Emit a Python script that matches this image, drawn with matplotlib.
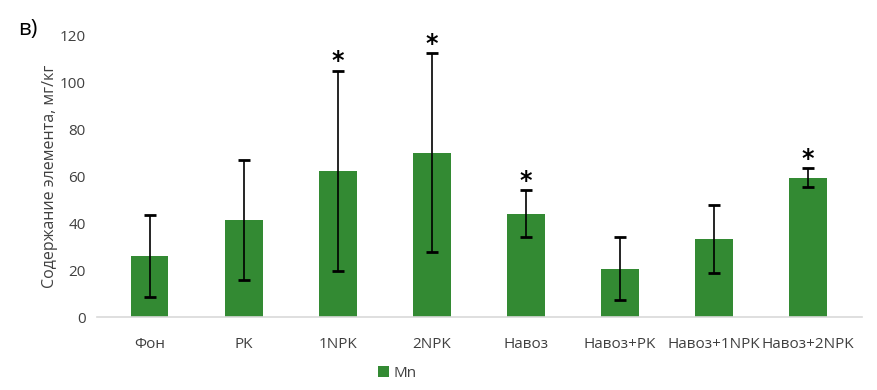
import numpy as np
from matplotlib import pyplot as plt

categories = ["Фон", "PK", "1NPK", "2NPK", "Навоз", "Навоз+PK", "Навоз+1NPK", "Навоз+2NPK"]
mn_values = [26.0, 41.3, 62.2, 70.0, 44.0, 20.6, 33.3, 59.3]
mn_errors = [17.5, 25.7, 42.5, 42.3, 10.0, 13.5, 14.5, 4.0]
significant = [False, False, True, True, True, False, False, True]

plt.rcParams['font.family'] = ['Liberation Sans Narrow', 'Open Sans', 'DejaVu Sans']

fig = plt.figure(figsize=(8.77, 3.90), dpi=100)
ax = fig.add_axes([0.1106, 0.187, 0.872, 0.723])

x = np.arange(len(categories))
ax.bar(x, mn_values, width=0.4, color="#338a33", label="Mn", zorder=2)
ax.errorbar(x, mn_values, yerr=mn_errors, fmt="none", ecolor="black",
            elinewidth=1.2, capsize=4, capthick=2, zorder=3)

# stars over significant bars
for xi, v, e, s in zip(x, mn_values, mn_errors, significant):
    if s:
        ax.text(xi, v + e - 1.0, "*", ha="center", va="bottom",
                fontsize=17, fontweight="bold", family="DejaVu Sans")

ax.set_xlim(-0.56, 7.57)
ax.set_ylim(0, 120)
ax.set_yticks(range(0, 121, 20))
ax.set_xticks(x)
ax.set_xticklabels(categories)
ax.tick_params(axis="both", length=0, labelsize=11, colors="#404040")
ax.tick_params(axis="x", pad=14)
ax.tick_params(axis="y", pad=8)
for side in ["top", "right", "left"]:
    ax.spines[side].set_visible(False)
ax.spines["bottom"].set_color("#d9d9d9")
ax.spines["bottom"].set_linewidth(1.2)

ax.set_ylabel("Содержание элемента, мг/кг", fontsize=11.5, color="#404040",
              family=["Open Sans", "DejaVu Sans"], labelpad=1)

fig.text(0.021, 0.91, "в)", fontsize=16, family=["Open Sans", "DejaVu Sans"])

ax.legend(loc="center", bbox_to_anchor=(0.393, -0.2), frameon=False,
          handlelength=0.7, handleheight=0.7, handletextpad=0.3,
          fontsize=11, labelcolor="#404040")

fig.savefig("out.png", dpi=100)
